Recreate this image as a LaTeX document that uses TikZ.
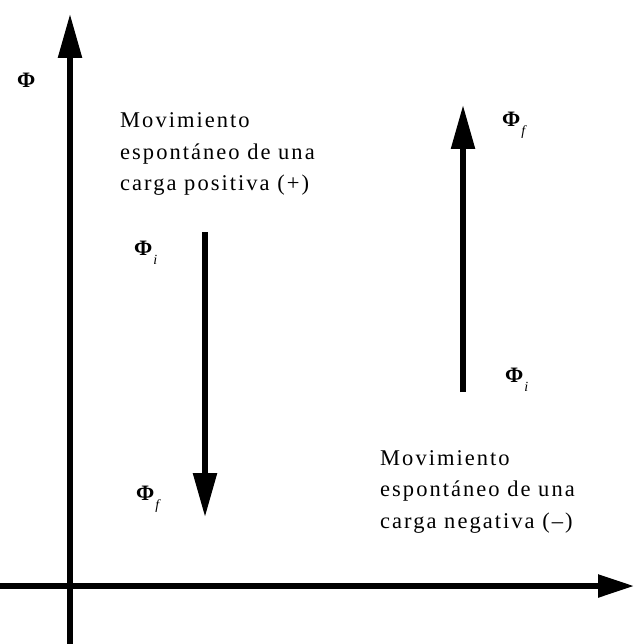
\documentclass[tikz,border=0pt]{standalone}
\usepackage{fontspec}
\setmainfont{Liberation Serif}
\newfontfamily\lblfont[LetterSpace=9]{Liberation Serif}
\usetikzlibrary{arrows.meta}
\begin{document}
\begin{tikzpicture}[x=1pt,y=-1pt,
  thickarrow/.style={line width=5.5pt, -{Triangle[length=44pt,width=23pt]}},
  axisarrow/.style={line width=5.5pt, -{Triangle[length=36pt,width=22pt]}},
  desc/.style={anchor=base west, align=left, inner sep=0pt, font=\lblfont\fontsize{22.5}{31.5}\selectfont},
  phi/.style={anchor=base west, inner sep=0pt, font=\fontsize{22}{22}\selectfont\bfseries}]
\useasboundingbox (0,0) rectangle (634,644);
% axes
\coordinate (yb) at (70,644);
\coordinate (yt) at (70,14);
\coordinate (xl) at (0,586);
\coordinate (xr) at (634,586);
\draw[thickarrow] (yb) -- (yt);
\draw[axisarrow] (xl) -- (xr);
% left (positive charge) arrow
\coordinate (pa) at (205,232);
\coordinate (pb) at (205,517);
\draw[thickarrow] (pa) -- (pb);
% right (negative charge) arrow
\coordinate (na) at (463,392);
\coordinate (nb) at (463,105);
\draw[thickarrow] (na) -- (nb);
% labels
\newcommand\phisub[1]{Φ\hspace{1pt}\raisebox{-9pt}{\fontsize{14}{14}\selectfont\mdseries\itshape #1}}
\node[phi] (phiaxis) at (17,88) {Φ};
\node[phi] (phiil) at (134,255) {\phisub{i}};
\node[phi] (phifl) at (136,500) {\phisub{f}};
\node[phi] (phifr) at (502,127) {\phisub{f}};
\node[phi] (phiir) at (505,382) {\phisub{i}};
\node[desc] (pos) at (120,191) {Movimiento\\espontáneo de una\\carga positiva (+)};
\node[desc] (neg) at (380,528) {Movimiento\\espontáneo de una\\carga negativa (–)};
\end{tikzpicture}
\end{document}
